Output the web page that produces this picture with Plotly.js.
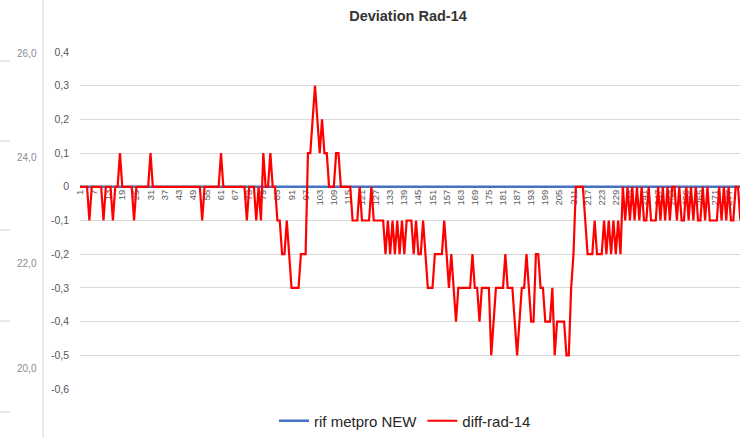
<!DOCTYPE html>
<html>
<head>
<meta charset="utf-8">
<script src="https://cdn.plot.ly/plotly-3.0.1.min.js"></script>
<style>
  html, body { margin: 0; padding: 0; background: #ffffff; overflow: hidden; }
  #chart { width: 740px; height: 438px; }
</style>
</head>
<body>
<div id="chart"></div>
<script>
// ---- data ----
const seriesNames = ['rif metpro NEW', 'diff-rad-14'];

const diffRad14 = [
  0, 0, 0, 0, -0.1, 0, 0, 0, 0, 0,
  -0.1, 0, 0, 0, -0.1, 0, 0, 0.1, 0, 0,
  0, 0, 0, -0.1, 0, 0, 0, 0, 0, 0,
  0.1, 0, 0, 0, 0, 0, 0, 0, 0, 0,
  0, 0, 0, 0, 0, 0, 0, 0, 0, 0,
  0, 0, -0.1, 0, 0, 0, 0, 0, 0, 0,
  0.1, 0, 0, 0, 0, 0, 0, 0, 0, 0,
  0, -0.1, 0, 0, 0, -0.1, 0, -0.1, 0.1, 0,
  0, 0.1, 0, 0, -0.1, -0.1, -0.2, -0.2, -0.1, -0.2,
  -0.3, -0.3, -0.3, -0.3, -0.2, -0.2, -0.2, 0.1, 0.1, 0.2,
  0.3, 0.2, 0.1, 0.2, 0.1, 0.1, 0, 0, 0, 0.1,
  0.1, 0, 0, 0, 0, 0, -0.1, -0.1, -0.1, 0,
  -0.1, -0.1, -0.1, -0.1, 0, -0.1, -0.1, -0.1, -0.1, -0.1,
  -0.2, -0.1, -0.2, -0.1, -0.2, -0.1, -0.2, -0.1, -0.2, -0.1,
  -0.1, -0.1, -0.2, -0.1, -0.2, -0.2, -0.1, -0.2, -0.3, -0.3,
  -0.3, -0.2, -0.2, -0.2, -0.2, -0.1, -0.2, -0.3, -0.2, -0.3,
  -0.4, -0.3, -0.3, -0.3, -0.3, -0.3, -0.3, -0.2, -0.3, -0.3,
  -0.4, -0.3, -0.3, -0.3, -0.3, -0.5, -0.4, -0.3, -0.3, -0.3,
  -0.3, -0.2, -0.3, -0.3, -0.3, -0.4, -0.5, -0.4, -0.3, -0.3,
  -0.2, -0.3, -0.4, -0.4, -0.2, -0.2, -0.3, -0.3, -0.4, -0.4,
  -0.4, -0.3, -0.5, -0.4, -0.4, -0.4, -0.4, -0.5, -0.5, -0.3,
  -0.2, 0, 0, 0, 0, -0.1, -0.2, -0.2, -0.2, -0.1,
  -0.2, -0.2, -0.2, -0.1, -0.2, -0.1, -0.2, -0.1, -0.2, -0.1,
  -0.2, 0, -0.1, 0, -0.1, 0, -0.1, 0, -0.1, 0,
  -0.1, -0.1, 0, -0.1, -0.1, -0.1, 0, -0.1, 0, -0.1,
  0, -0.1, 0, 0, -0.1, 0, -0.1, -0.1, 0, -0.1,
  0, -0.1, 0, -0.1, -0.1, 0, -0.1, 0, -0.1, -0.1,
  -0.1, -0.1, 0, -0.1, 0, -0.1, 0, -0.1, -0.1, 0,
  0, -0.1, 0
];

const rifMetproNew = [
  0,0,0,0,0,0,0,0,0,0,0,0,0,0,0,0,0,0,0,0,
  0,0,0,0,0,0,0,0,0,0,0,0,0,0,0,0,0,0,0,0,
  0,0,0,0,0,0,0,0,0,0,0,0,0,0,0,0,0,0,0,0,
  0,0,0,0,0,0,0,0,0,0,0,0,0,0,0,0,0,0,0,0,
  0,0,0,0,0,0,0,0,0,0,0,0,0,0,0,0,0,0,0,0,
  0,0,0,0,0,0,0,0,0,0,0,0,0,0,0,0,0,0,0,0,
  0,0,0,0,0,0,0,0,0,0,0,0,0,0,0,0,0,0,0,0,
  0,0,0,0,0,0,0,0,0,0,0,0,0,0,0,0,0,0,0,0,
  0,0,0,0,0,0,0,0,0,0,0,0,0,0,0,0,0,0,0,0,
  0,0,0,0,0,0,0,0,0,0,0,0,0,0,0,0,0,0,0,0,
  0,0,0,0,0,0,0,0,0,0,0,0,0,0,0,0,0,0,0,0,
  0,0,0,0,0,0,0,0,0,0,0,0,0,0,0,0,0,0,0,0,
  0,0,0,0,0,0,0,0,0,0,0,0,0,0,0,0,0,0,0,0,
  0,0,0,0,0,0,0,0,0,0,0,0,0,0,0,0,0,0,0,0,
  0,0,0
];

const xTickLabels = ['1','7','13','19','25','31','37','43','49','55','61','67','73','79','85',
  '91','97','103','109','115','121','127','133','139','145','151','157','163','169','175',
  '181','187','193','199','205','211','217','223','229','235','241','247','253','259','265',
  '271','277'];

const yTickValues = [0.4, 0.3, 0.2, 0.1, 0, -0.1, -0.2, -0.3, -0.4, -0.5, -0.6];
const yTickLabels = ['0,4', '0,3', '0,2', '0,1', '0', '-0,1', '-0,2', '-0,3', '-0,4', '-0,5', '-0,6'];

// labels of a neighbouring chart that show at the left edge of the reference
const ghostLabels = ['26,0', '24,0', '22,0', '20,0'];
const ghostLabelRows = [53, 157, 263, 368];
const ghostDashRows = [61, 141, 230, 321, 412];

// ---- layout geometry ----
const W = 740, H = 438;
const M = { l: 80, r: 0, t: 52, b: 49 };
const plotW = W - M.l - M.r, plotH = H - M.t - M.b;
const px2x = px => (px - M.l) / plotW;
const py2y = py => (H - M.b - py) / plotH;

const categories = diffRad14.map((_, i) => i + 1);
const tickVals = xTickLabels.map(Number);

const FONT = '"Liberation Sans", Arial, sans-serif';

const traces = [
  {
    x: categories, y: rifMetproNew, name: seriesNames[0],
    type: 'scatter', mode: 'lines',
    line: { color: '#4472C4', width: 2.5 },
    hoverinfo: 'skip'
  },
  {
    x: categories, y: diffRad14, name: seriesNames[1],
    type: 'scatter', mode: 'lines',
    line: { color: '#FF0000', width: 2.2 },
    hoverinfo: 'skip'
  }
];

const shapes = [
  { type: 'line', xref: 'paper', yref: 'paper', x0: px2x(43), x1: px2x(43), y0: py2y(0), y1: py2y(H),
    line: { color: '#d9d9d9', width: 1 } }
].concat(ghostDashRows.map(r => ({
  type: 'line', xref: 'paper', yref: 'paper', x0: px2x(0), x1: px2x(10), y0: py2y(r), y1: py2y(r),
  line: { color: '#d0d0d0', width: 1 }
})));

const annotations = ghostLabels.map((t, i) => ({
  text: t, xref: 'paper', yref: 'paper', x: px2x(27), y: py2y(ghostLabelRows[i]),
  xanchor: 'center', yanchor: 'middle', showarrow: false,
  font: { family: FONT, size: 10, color: '#8c8c8c' }
}));

const layout = {
  width: W, height: H,
  margin: M,
  paper_bgcolor: '#ffffff', plot_bgcolor: '#ffffff',
  showlegend: true,
  title: {
    text: '<b>Deviation Rad-14</b>',
    x: 408 / W, xanchor: 'center', xref: 'container',
    y: 1 - 16 / H, yanchor: 'middle', yref: 'container',
    font: { family: FONT, size: 14.5, color: '#333333' }
  },
  xaxis: {
    type: 'linear',
    range: [1, 1 + plotW / 2.35],
    anchor: 'free', position: 0.6,
    tickmode: 'array', tickvals: tickVals, ticktext: xTickLabels,
    tickangle: -90,
    ticks: '', showgrid: false, zeroline: false, showline: false,
    tickfont: { family: FONT, size: 9.5, color: '#595959' },
    layer: 'below traces',
    fixedrange: true
  },
  yaxis: {
    range: [-0.6, 0.4],
    tickmode: 'array', tickvals: yTickValues, ticktext: yTickLabels,
    showgrid: true, gridcolor: '#d9d9d9', gridwidth: 1,
    zeroline: false, showline: false, ticks: '',
    ticklabelstandoff: 10,
    tickfont: { family: FONT, size: 10.5, color: '#595959' },
    fixedrange: true
  },
  legend: {
    orientation: 'h', x: px2x(405), xanchor: 'center', y: py2y(421), yanchor: 'middle',
    font: { family: FONT, size: 15, color: '#262626' },
    bgcolor: 'rgba(0,0,0,0)'
  },
  shapes: shapes,
  annotations: annotations
};

Plotly.newPlot('chart', traces, layout, { displayModeBar: false, staticPlot: true });
</script>
</body>
</html>
